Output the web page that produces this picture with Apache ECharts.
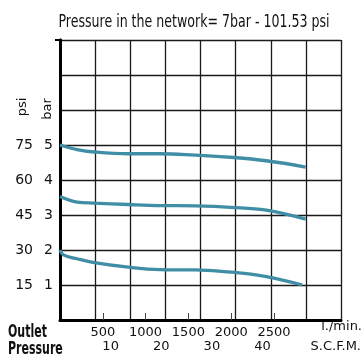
<!DOCTYPE html>
<html>
<head>
<meta charset="utf-8">
<script src="https://cdn.jsdelivr.net/npm/echarts@6/dist/echarts.min.js"></script>
<style>
  html, body { margin: 0; padding: 0; background: #fff; }
  #chart { width: 363px; height: 358px; }
</style>
</head>
<body>
<div id="chart"></div>
<script>
// flow in l/min, outlet pressure in bar
const flowHigh = [0, 200, 400, 800, 1170, 1580, 1990, 2410, 2870];
const barHigh = [5.0, 4.87, 4.80, 4.75, 4.75, 4.71, 4.65, 4.55, 4.37];
const flowMid = [0, 200, 400, 800, 1170, 1580, 1990, 2410, 2870];
const barMid = [3.53, 3.37, 3.34, 3.30, 3.27, 3.26, 3.22, 3.14, 2.88];
const flowLow = [0, 40, 200, 400, 800, 1170, 1580, 1990, 2410, 2830];
const barLow = [2.0, 1.86, 1.75, 1.64, 1.51, 1.44, 1.43, 1.37, 1.24, 1.0];

const lpmTicks = [500, 1000, 1500, 2000, 2500];
const scfmTicks = [10, 20, 30, 40];
const barTicks = [1, 2, 3, 4, 5];
const psiTicks = [15, 30, 45, 60, 75];

const chart = echarts.init(document.getElementById('chart'));
const lineColor = '#3f8ea6';
const narrow = '"DejaVu Sans Condensed", "Liberation Sans Narrow", sans-serif';
const labelFont = { color: '#111', fontSize: 13, fontFamily: 'DejaVu Sans', formatter: v => String(v) };

function pairs(xs, ys) {
  return xs.map((x, i) => [x, ys[i]]);
}

function curve(xs, ys) {
  return {
    type: 'line',
    xAxisIndex: 1,
    yAxisIndex: 0,
    data: pairs(xs, ys),
    smooth: 0.4,
    showSymbol: false,
    lineStyle: { color: lineColor, width: 3.3 },
    silent: true
  };
}

chart.setOption({
  animation: false,
  grid: { left: 60, top: 40, width: 281, height: 280, show: false },
  xAxis: [
    {
      // grid columns
      type: 'value', min: 0, max: 8, interval: 1, position: 'bottom',
      axisLine: { show: true, lineStyle: { color: '#000', width: 3 } },
      axisTick: { show: false },
      axisLabel: { show: false },
      splitLine: { show: true, lineStyle: { color: '#1a1a1a', width: 1.3 } }
    },
    {
      // l/min
      type: 'value', min: 0, max: 3283, position: 'bottom',
      axisLine: { show: false },
      axisTick: { show: true, inside: true, length: 7, customValues: lpmTicks, lineStyle: { color: '#444', width: 1 } },
      axisLabel: Object.assign({ customValues: lpmTicks, margin: 6 }, labelFont),
      splitLine: { show: false }
    },
    {
      // S.C.F.M.
      type: 'value', min: 0, max: 55.5, position: 'bottom',
      axisLine: { show: false },
      axisTick: { show: false },
      axisLabel: Object.assign({ customValues: scfmTicks, margin: 20 }, labelFont),
      splitLine: { show: false }
    }
  ],
  yAxis: [
    {
      // bar
      type: 'value', min: 0, max: 8, interval: 1, position: 'left',
      axisLine: { show: true, lineStyle: { color: '#000', width: 3 } },
      axisTick: { show: false },
      axisLabel: Object.assign({ customValues: barTicks, margin: 7 }, labelFont, { fontSize: 14 }),
      splitLine: { show: true, lineStyle: { color: '#1a1a1a', width: 1.3 } }
    },
    {
      // psi
      type: 'value', min: 0, max: 120, offset: 19, position: 'left',
      axisLine: { show: false },
      axisTick: { show: false },
      axisLabel: Object.assign({ customValues: psiTicks, margin: 8 }, labelFont, { fontSize: 14 }),
      splitLine: { show: false }
    },
    {
      // right border with its small hook at the top
      type: 'value', min: 0, max: 8, position: 'right',
      axisLine: { show: true, lineStyle: { color: '#000', width: 3 } },
      axisTick: { show: true, inside: true, length: 5, customValues: [8], lineStyle: { color: '#000', width: 2 } },
      axisLabel: { show: false },
      splitLine: { show: false }
    }
  ],
  graphic: [
    { type: 'text', x: 194, y: 22, scaleX: 0.8,
      style: { text: 'Pressure in the network= 7bar - 101.53 psi', font: '17.5px ' + narrow, fill: '#111', align: 'center', verticalAlign: 'middle' } },
    { type: 'text', x: 23, y: 107, rotation: Math.PI / 2,
      style: { text: 'psi', font: '13px "DejaVu Sans"', fill: '#111', align: 'center', verticalAlign: 'middle' } },
    { type: 'text', x: 48, y: 109, rotation: Math.PI / 2,
      style: { text: 'bar', font: '13px "DejaVu Sans"', fill: '#111', align: 'center', verticalAlign: 'middle' } },
    { type: 'text', x: 8, y: 324, scaleX: 0.72,
      style: { text: 'Outlet\nPressure', font: 'bold 17px ' + narrow, lineHeight: 17, fill: '#111' } },
    { type: 'text', x: 362, y: 327,
      style: { text: 'l./min.', font: '13px "DejaVu Sans"', fill: '#111', align: 'right', verticalAlign: 'middle' } },
    { type: 'text', x: 361, y: 347,
      style: { text: 'S.C.F.M.', font: '13px "DejaVu Sans"', fill: '#111', align: 'right', verticalAlign: 'middle' } }
  ],
  series: [
    curve(flowHigh, barHigh),
    curve(flowMid, barMid),
    curve(flowLow, barLow)
  ]
});
</script>
</body>
</html>
